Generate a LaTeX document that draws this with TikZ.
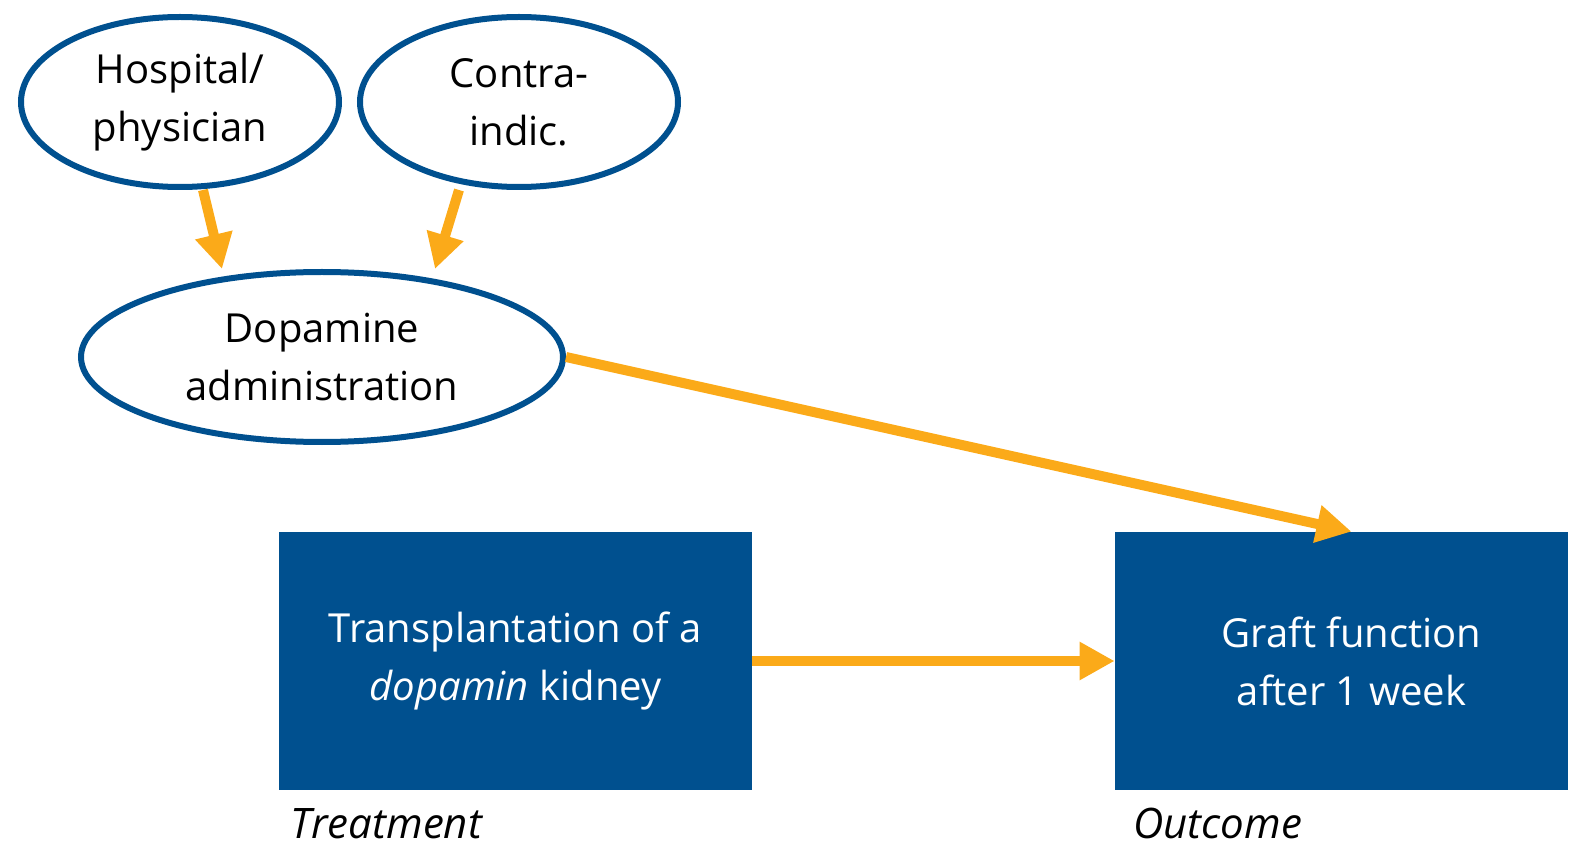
\documentclass[tikz,border=0pt]{standalone}
\usepackage{fontspec}
\setmainfont{Open Sans}
\usetikzlibrary{arrows.meta,shapes.geometric}
\definecolor{navy}{RGB}{0,80,143}
\definecolor{amber}{RGB}{251,170,25}
\begin{document}
\begin{tikzpicture}[x=0.5pt,y=-0.5pt,
  txt/.style={font=\fontsize{20}{29}\selectfont, align=center},
  factor/.style={txt, ellipse, draw=navy, line width=3pt, inner sep=0pt,
    minimum width=159pt, minimum height=85pt, text=black},
  block/.style={txt, rectangle, fill=navy, text=white, inner sep=0pt,
    minimum height=129pt},
  caption/.style={font=\fontsize{21}{24}\selectfont\itshape, anchor=base west, inner sep=0pt},
  effect/.style={draw=amber, line width=5pt,
    -{Triangle[width=18pt,length=17.5pt]}}
]
\useasboundingbox (0,0) rectangle (1570,850);

% confounders and the mediating node
\node[factor] (hosp) at (180,102) {\raisebox{-3pt}{}Hospital/\\physician};
\node[factor] (contra) at (519,102) {Contra-\\indic.};
\node[factor, minimum width=241pt] (dop) at (322,357) {Dopamine\\administration};

% treatment and outcome blocks
\node[block, minimum width=236.5pt] (treat) at (515.5,661) {Transplantation of a\\\textit{dopamin} kidney};
\node[block, minimum width=226.5pt] (graft) at (1341.5,661) {\hspace*{10pt}Graft function\\\hspace*{10pt}after 1 week};

% captions under the blocks
\node[caption] (treatlbl) at (290,838) {Treatment};
\node[caption] (outlbl) at (1133,838) {Outcome};

% causal arrows
\draw[effect] ([xshift=11.5pt]hosp.south) -- ([xshift=-50pt]dop.north);
\draw[effect] ([xshift=-30pt]contra.south) -- ([xshift=56.5pt]dop.north);
\draw[effect] (dop.east) -- ([xshift=5pt]graft.north);
\draw[effect] (treat.east) -- (graft.west);
\end{tikzpicture}
\end{document}
